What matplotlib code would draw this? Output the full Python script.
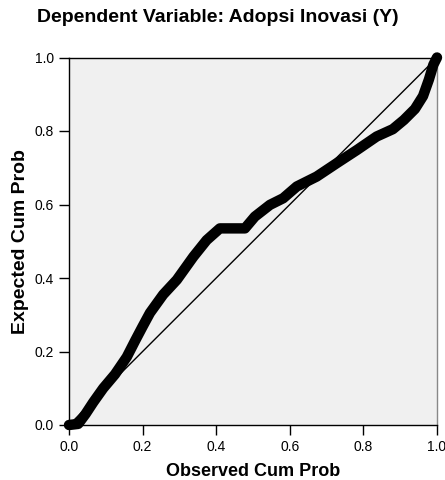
import numpy as np
import matplotlib.pyplot as plt
from matplotlib import rcParams

rcParams['font.family'] = ['Liberation Sans', 'DejaVu Sans']

# observed vs expected cumulative probability
obs = [0.0, 0.025, 0.045, 0.066, 0.093, 0.125, 0.157, 0.18, 0.20, 0.22,
       0.256, 0.293, 0.338, 0.374, 0.41, 0.478, 0.505, 0.546, 0.582, 0.619,
       0.673, 0.727, 0.782, 0.836, 0.88, 0.91, 0.94, 0.962, 0.978, 0.99, 1.0]
exp = [0.0, 0.003, 0.03, 0.062, 0.10, 0.138, 0.185, 0.23, 0.268, 0.305,
       0.355, 0.395, 0.458, 0.503, 0.535, 0.535, 0.567, 0.599, 0.617, 0.649,
       0.676, 0.712, 0.748, 0.785, 0.805, 0.83, 0.86, 0.895, 0.94, 0.98, 1.0]
ref = [0.0, 1.0]
ticks = [0.0, 0.2, 0.4, 0.6, 0.8, 1.0]

fig = plt.figure(figsize=(4.45, 4.8), dpi=100)
ax = fig.add_axes([69/445., 55/480., 368/445., 367.5/480.])
ax.set_facecolor('#f0f0f0')

ax.plot(ref, ref, color='black', lw=1.0, zorder=2)
ax.plot(obs, exp, color='black', lw=7.5, solid_capstyle='round',
        solid_joinstyle='round', zorder=3, clip_on=False)

ax.set_xlim(0, 1)
ax.set_ylim(0, 1)
ax.set_xticks(ticks)
ax.set_yticks(ticks)
ax.set_xticklabels(['%.1f' % t for t in ticks])
ax.set_yticklabels(['%.1f' % t for t in ticks])
ax.tick_params(direction='out', length=7, width=1, labelsize=10, pad=4)
for s in ax.spines.values():
    s.set_linewidth(1)
ax.spines['right'].set_color('#888888')

ax.set_xlabel('Observed Cum Prob', fontsize=13, fontweight='bold', labelpad=6)
ax.set_ylabel('Expected Cum Prob', fontsize=14, fontweight='bold', labelpad=4)
fig.text(0.49, 1 - 18/480., 'Dependent Variable: Adopsi Inovasi (Y)',
         fontsize=14, fontweight='bold', ha='center', va='center')

fig.savefig('out.png', dpi=100)
